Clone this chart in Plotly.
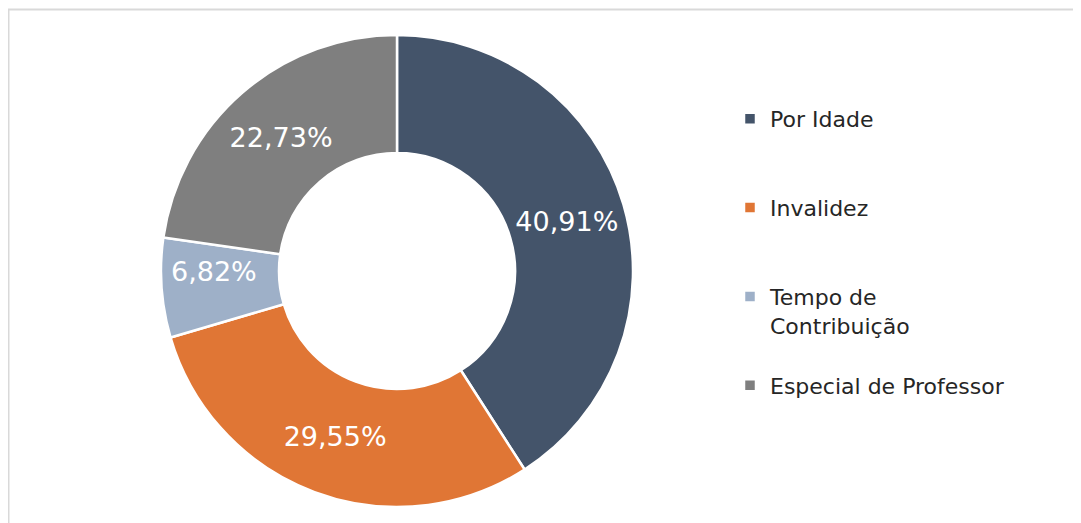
import plotly.graph_objects as go

categories = ["Por Idade", "Invalidez", "Tempo de Contribuição", "Especial de Professor"]
legend_labels = ["Por Idade<br>\u00a0<br>\u00a0", "Invalidez<br>\u00a0<br>\u00a0",
                 "Tempo de<br>Contribuição<br>\u00a0", "Especial de Professor"]
counts = [18, 13, 3, 10]
colors = ["#44546a", "#e07635", "#9eb0c8", "#7f7f7f"]

W, H = 1081, 523
OFF = 8  # page body margin
cx, cy, r = 397 - OFF, 271 - OFF, 236

fig = go.Figure()
fig.add_trace(go.Pie(
    labels=legend_labels,
    values=counts,
    customdata=categories,
    hole=0.5,
    sort=False,
    direction="clockwise",
    rotation=0,
    marker=dict(colors=colors, line=dict(color="white", width=2.5)),
    texttemplate="%{percent:.2%}",
    textposition="inside",
    insidetextorientation="horizontal",
    textfont=dict(color="white", size=27, family="DejaVu Sans"),
    hovertemplate="%{customdata}: %{value}<extra></extra>",
    domain=dict(x=[(cx - r) / W, (cx + r) / W], y=[1 - (cy + r) / H, 1 - (cy - r) / H]),
))

fig.update_layout(
    width=W, height=H,
    margin=dict(l=0, r=0, t=0, b=0),
    paper_bgcolor="white",
    separators=",.",
    font=dict(family="DejaVu Sans", color="#262626"),
    showlegend=True,
    legend=dict(
        x=(730 - OFF) / W, xanchor="left",
        y=1 - 90 / H, yanchor="top",
        valign="top",
        font=dict(size=22, color="#262626", family="DejaVu Sans"),
        bgcolor="rgba(0,0,0,0)",
    ),
    shapes=[dict(type="rect", xref="paper", yref="paper",
                 x0=0.5 / W, x1=1.02, y0=-0.05, y1=1 - 1.5 / H,
                 line=dict(color="#d9d9d9", width=2), fillcolor="rgba(0,0,0,0)", layer="below")],
)

fig.write_html("out.html")
